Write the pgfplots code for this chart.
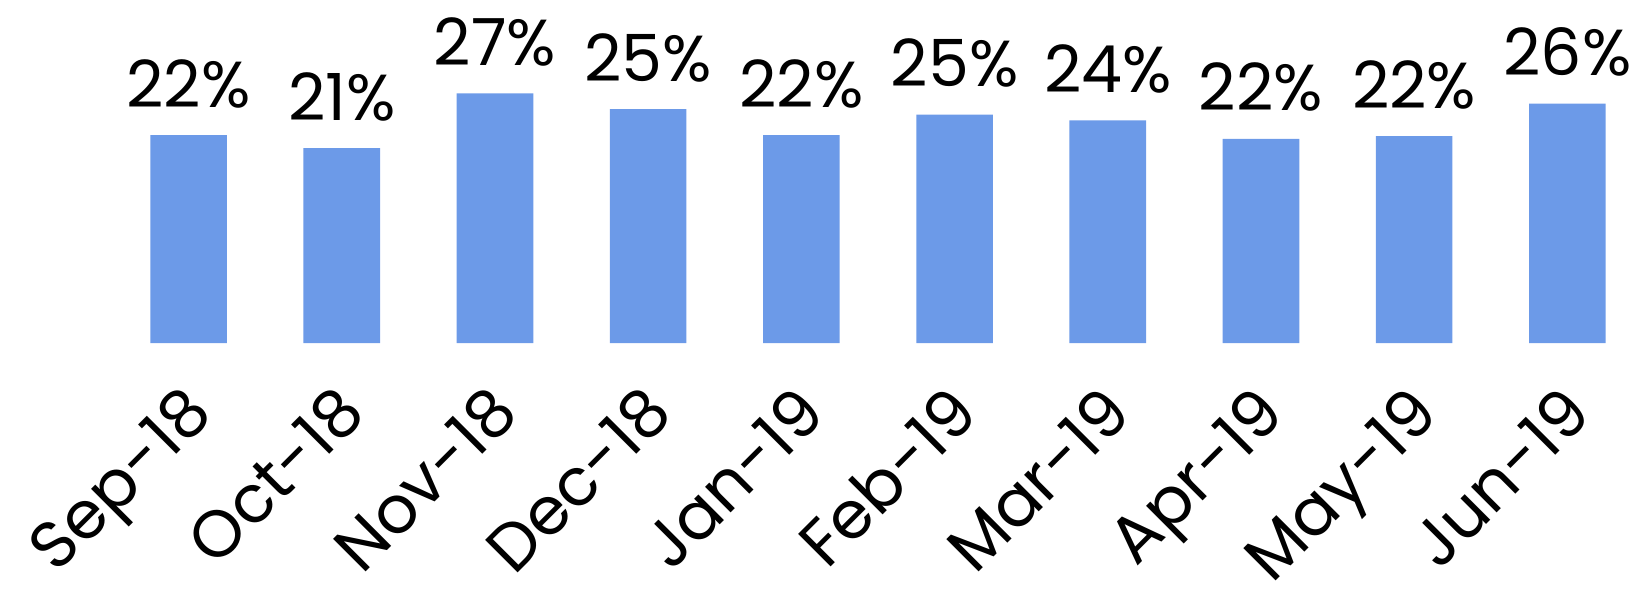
\documentclass[border=0pt]{standalone}
\usepackage{fontspec}
\setmainfont{Poppins}
\usepackage{pgfplots}
\pgfplotsset{compat=1.18}
\definecolor{barblue}{RGB}{108,154,232}
\begin{document}
\begin{tikzpicture}
\begin{axis}[
  scale only axis,
  width=1532pt, height=278.4pt,
  xmin=-0.5, xmax=9.5, ymin=0, ymax=30,
  axis line style={draw=none},
  ymajorticks=false,
  xtick=data,
  xticklabels={Sep-18,Oct-18,Nov-18,Dec-18,Jan-19,Feb-19,Mar-19,Apr-19,May-19,Jun-19},
  major tick length=0pt,
  xtick style={draw=none},
  xticklabel style={font=\fontsize{66}{74}\selectfont, xshift=-8pt, yshift=-39pt, rotate=45, anchor=north east, inner sep=0pt},
  /pgf/number format/assume math mode=true,
  ybar, bar width=76.6pt,
  nodes near coords={\pgfmathprintnumber[fixed,precision=0]{\pgfplotspointmeta}\%},
  every node near coord/.append style={font=\fontsize{65}{72}\selectfont, anchor=base, yshift=28pt, inner sep=0pt},
  clip=false,
]
\addplot[fill=barblue, draw=none] coordinates {
 (0,22.4) (1,21.0) (2,26.9) (3,25.2) (4,22.4) (5,24.6) (6,24.0) (7,22.0) (8,22.3) (9,25.8)
};
\end{axis}
\pgfresetboundingbox
\path[use as bounding box] (-112pt,-255pt) rectangle (1532pt,343pt);
\end{tikzpicture}
\end{document}
